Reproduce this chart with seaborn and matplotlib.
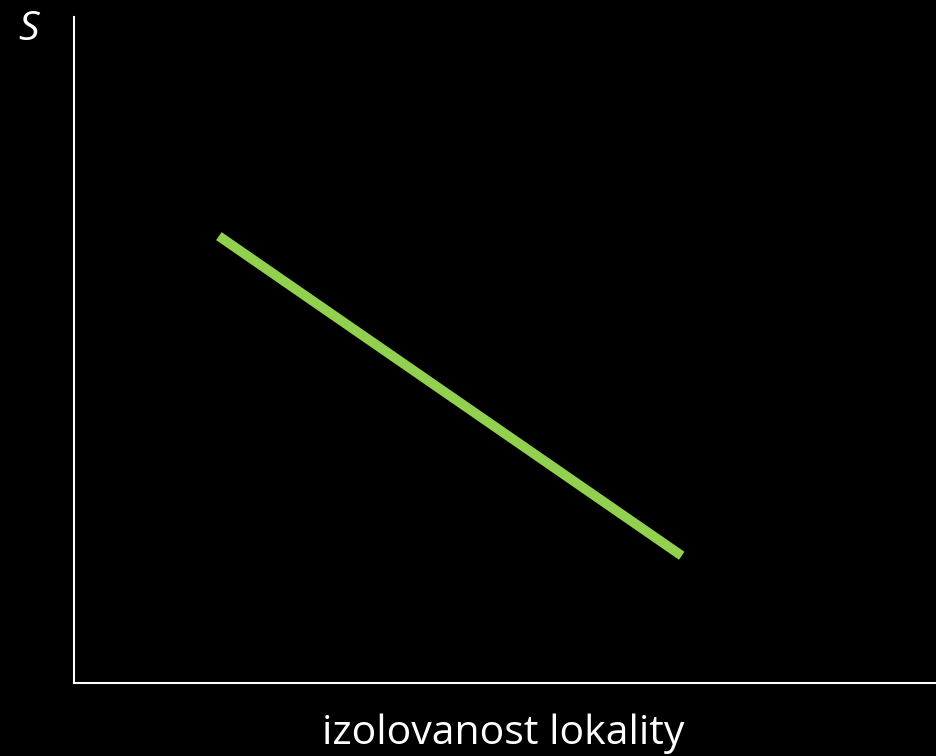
import pandas as pd
import seaborn as sns
import matplotlib.pyplot as plt

# data (axis units 0..10)
isolation = [1.68, 7.05]
species = [6.71, 1.91]
x_label = "izolovanost lokality"
y_label = "S"

sns.set_theme(style="white")
plt.rcParams['font.family'] = ['Open Sans', 'DejaVu Sans']

df = pd.DataFrame({"izolovanost": isolation, "S": species})

fig = plt.figure(figsize=(9.36, 7.56), dpi=100, facecolor="black")
ax = fig.add_axes([0.0791, 0.0966, 0.9209, 0.8809])
ax.set_facecolor("black")

sns.lineplot(data=df, x="izolovanost", y="S", ax=ax, color="#92D050",
             linewidth=7, solid_capstyle="butt")

ax.set_xlim(0, 10)
ax.set_ylim(0, 10)
ax.set_xticks([])
ax.set_yticks([])
ax.set_xlabel("")
ax.set_ylabel("")
for side in ["top", "right"]:
    ax.spines[side].set_visible(False)
for side in ["left", "bottom"]:
    ax.spines[side].set_color("white")
    ax.spines[side].set_linewidth(1.5)

fig.text(0.538, 0.016, x_label, color="white", fontsize=29.5, ha="center", va="baseline")
fig.text(0.0305, 0.947, y_label, color="white", fontsize=29.5, style="italic",
         ha="center", va="baseline")

fig.savefig("out.png", dpi=100, facecolor="black")
